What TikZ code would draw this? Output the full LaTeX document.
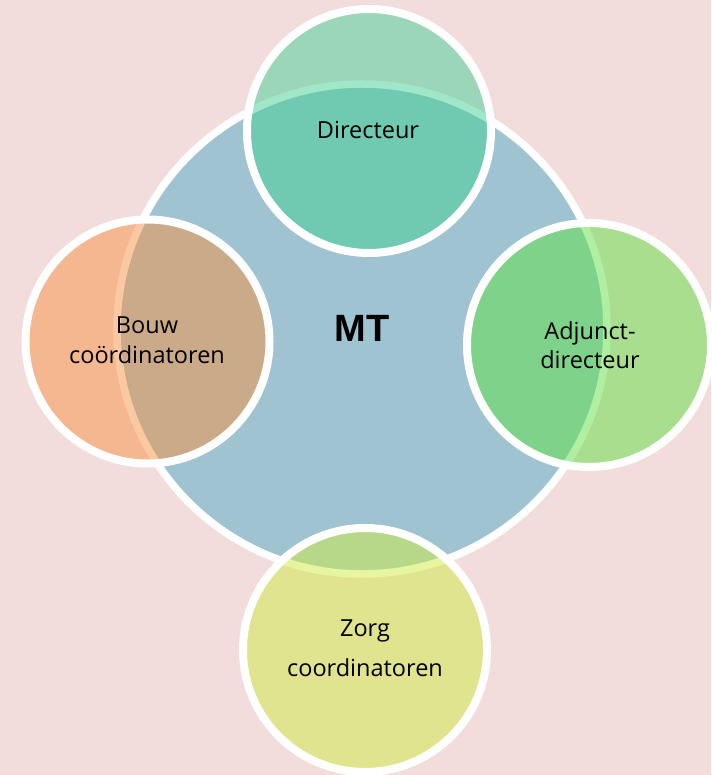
\documentclass[tikz,border=0pt]{standalone}
\usepackage{fontspec}
\setmainfont{Open Sans}
\newfontfamily\mtfont{Liberation Sans}
\definecolor{bgpink}{RGB}{242,220,220}
\definecolor{mtblue}{RGB}{159,195,208}
\definecolor{cdir}{RGB}{67,209,148}
\definecolor{cbouw}{RGB}{247,147,68}
\definecolor{cadj}{RGB}{97,225,68}
\definecolor{czorg}{RGB}{209,237,68}
\tikzset{
  bigcirc/.style={circle, inner sep=0pt, minimum size=490pt, fill=mtblue, draw=white, line width=7.5pt},
  smallcirc/.style={circle, inner sep=0pt, minimum size=244pt, fill opacity=0.5, draw=white, draw opacity=1, line width=8pt},
  lbl/.style={font=\fontsize{23.5}{26}\selectfont, text=black, anchor=base, inner sep=0pt},
}
\begin{document}
\begin{tikzpicture}[x=1pt,y=-1pt]
\fill[bgpink] (0,0) rectangle (711,775);
\useasboundingbox (0,0) rectangle (711,775);
\node[bigcirc] (mt) at (362,329) {};
\node[smallcirc, fill=cdir] (dir) at (369,131) {};
\node[smallcirc, fill=cbouw] (bouw) at (147.5,341.5) {};
\node[smallcirc, fill=cadj] (adj) at (589,345) {};
\node[smallcirc, fill=czorg] (zorg) at (365,650) {};
\node[font=\mtfont\bfseries\fontsize{38}{40}\selectfont, anchor=base, inner sep=0pt] (mtl) at (362,341) {MT};
\node[lbl] (dirl) at (368,139) {Directeur};
\node[lbl] (bouwl1) at (147,333) {Bouw};
\node[lbl] (bouwl2) at (147,363) {coördinatoren};
\node[lbl] (adjl1) at (590,339) {Adjunct-};
\node[lbl] (adjl2) at (590,368) {directeur};
\node[lbl] (zorgl1) at (365,636) {Zorg};
\node[lbl] (zorgl2) at (365,676) {coordinatoren};
\end{tikzpicture}
\end{document}
